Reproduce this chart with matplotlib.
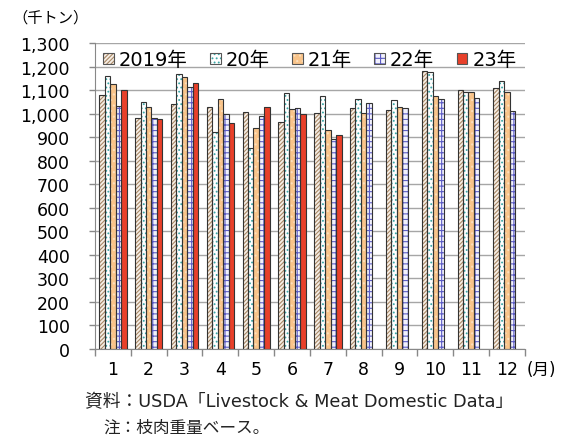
import numpy as np
import matplotlib
matplotlib.use('Agg')
import matplotlib.pyplot as plt
from matplotlib.patches import Patch
from matplotlib.ticker import FuncFormatter, MultipleLocator

plt.rcParams['font.family'] = ['DejaVu Sans', 'Noto Sans CJK JP']
plt.rcParams['hatch.linewidth'] = 0.8

# データ（千トン）
months = ['1', '2', '3', '4', '5', '6', '7', '8', '9', '10', '11', '12']
years = ['2019年', '20年', '21年', '22年', '23年']
y2019 = [1078, 983, 1043, 1030, 1007, 966, 1004, 1024, 1014, 1182, 1101, 1109]
y2020 = [1159, 1048, 1167, 922, 854, 1089, 1075, 1062, 1060, 1179, 1092, 1139]
y2021 = [1125, 1027, 1156, 1062, 939, 1021, 930, 1004, 1028, 1077, 1092, 1091]
y2022 = [1033, 983, 1113, 999, 990, 1024, 894, 1047, 1024, 1061, 1067, 1011]
y2023 = [1102, 977, 1129, 962, 1030, 1000, 909, np.nan, np.nan, np.nan, np.nan, np.nan]
series = [y2019, y2020, y2021, y2022, y2023]

# 模様: (塗り, 模様の色, hatch)
styles = [('#F6EEE6', '#A88866', '////////'),
          ('#FFFFFF', '#3AA6A6', '....'),
          ('#F9C48A', '#FCE0BE', '...'),
          ('#F2F2FC', '#5C5CC4', '+++'),
          ('#E8402A', '#E8402A', None)]

fig = plt.figure(figsize=(5.64, 4.39), dpi=100)
ax = fig.add_axes([0.1684, 0.2027, 0.7624, 0.697])

x = np.arange(len(months)) + 0.5
w = 0.153
handles = []
for i, vals in enumerate(series):
    fc, hc, hatch = styles[i]
    pos = x + (i - 2) * w
    ax.bar(pos, vals, width=w, color=fc, edgecolor=hc, hatch=hatch, linewidth=0, zorder=2)
    ax.bar(pos, vals, width=w, fill=False, edgecolor='#333333', linewidth=0.8, zorder=3)
    p1 = Patch(facecolor=fc, edgecolor=hc, hatch=hatch, linewidth=0)
    p2 = Patch(fill=False, edgecolor='#555555', linewidth=0.8)
    handles.append((p1, p2))

ax.set_xlim(0, 12)
ax.set_ylim(0, 1300)
ax.yaxis.set_major_locator(MultipleLocator(100))
ax.yaxis.set_major_formatter(FuncFormatter(lambda v, p: f'{int(v):,}'))
ax.grid(axis='y', color='#A6A6A6', linewidth=1.0, zorder=0)
ax.set_axisbelow(True)

ax.set_xticks(np.arange(0, 13))
ax.set_xticklabels([])
ax.set_xticks(x, minor=True)
ax.set_xticklabels(months, minor=True)
ax.tick_params(axis='x', which='major', length=5, color='#888888', width=1)
ax.tick_params(axis='x', which='minor', length=0, pad=8, labelsize=12.5)
ax.tick_params(axis='y', length=4, color='#888888', width=1, pad=14, labelsize=12.5)

for s in ['top', 'right']:
    ax.spines[s].set_visible(False)
for s in ['left', 'bottom']:
    ax.spines[s].set_color('#888888')

ax.legend(handles, years, loc='center', bbox_to_anchor=(0.5, 0.945), ncol=5,
          frameon=False, fontsize=14, handlelength=0.55, handleheight=0.55,
          handletextpad=0.25, columnspacing=1.15, borderaxespad=0)

fig.text(12 / 564, 1 - 18 / 439, '（千トン）', fontsize=11, va='center', ha='left')
fig.text(527 / 564, 1 - 370 / 439, '(月)', fontsize=12, va='center', ha='left')
fig.text(85 / 564, 1 - 402 / 439, '資料：USDA「Livestock & Meat Domestic Data」',
         fontsize=12.8, va='center', ha='left', color='#222222')
fig.text(103 / 564, 1 - 428 / 439, '注：枝肉重量ベース。',
         fontsize=12, va='center', ha='left', color='#222222')

fig.savefig('out.png', dpi=100)
